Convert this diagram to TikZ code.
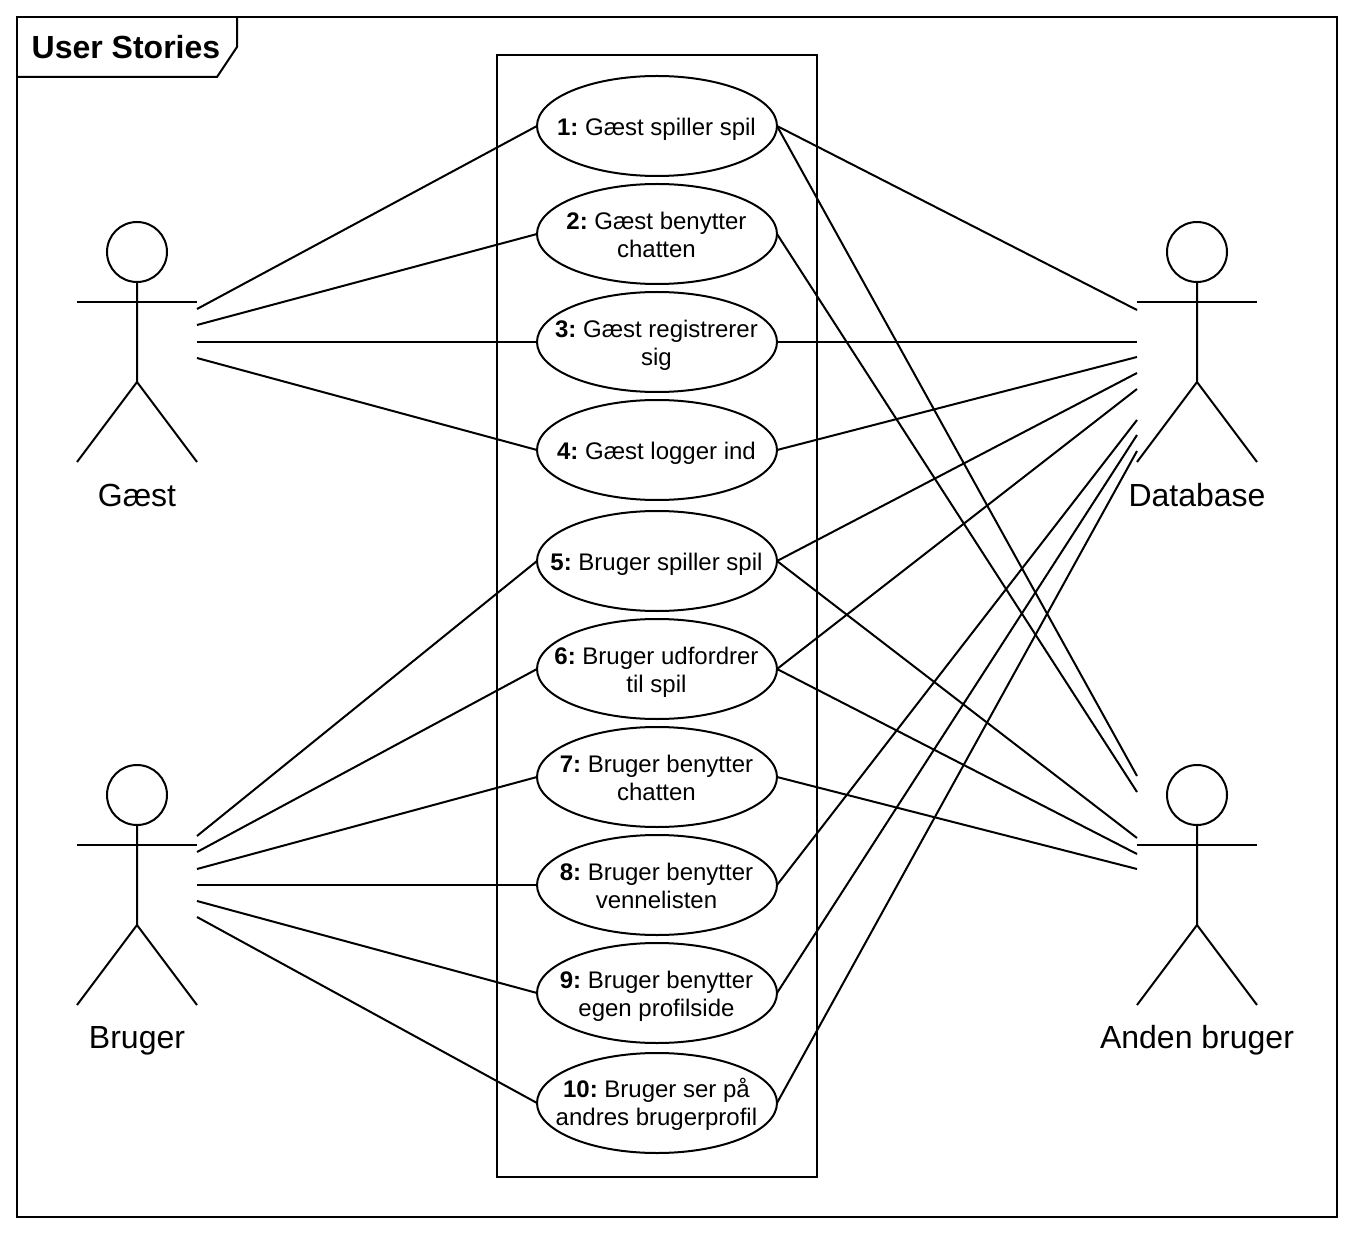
\documentclass[tikz,border=0pt]{standalone}
\usepackage{fontspec}
\setmainfont{Liberation Sans}
\usepackage{tikz}
\usetikzlibrary{positioning, shapes.geometric}
\frenchspacing

\tikzset{
    edge/.style={draw=black, line width=1.5pt},
    usecase/.style={ellipse, draw=black, line width=1.5pt, fill=white, inner sep=0pt, outer sep=0pt, minimum width=180pt, minimum height=75pt},
    casetext/.style={align=center, inner sep=0pt, xshift=-0.4pt, yshift=-2.6pt, font=\fontsize{18}{21}\selectfont, execute at begin node=\strut, execute at end node=\strut},
    casetwo/.style={casetext, yshift=-1pt},
    head/.style={circle, draw=black, line width=1.5pt, inner sep=0pt, outer sep=0pt, minimum size=45pt},
    actorname/.style={inner sep=0pt, text height=17.5pt, text depth=0pt, font=\fontsize{24}{28}\selectfont},
    titletext/.style={inner sep=0pt, font=\fontsize{24}{28}\selectfont\bfseries}
}

\begin{document}
\begin{tikzpicture}[x=0.75pt, y=-0.75pt]
    \useasboundingbox (0, 0) rectangle (1364, 1244);

    % frame
    \draw[edge] (17, 17) rectangle (1337, 1217);
    \draw[edge] (17, 77) -- (217, 77) -- (237, 47) -- (237, 17);
    \node[titletext] (title) at (126, 47) {User Stories};
    \draw[edge] (497, 55) rectangle (817, 1177);

    % use cases
    \node[usecase, label={[casetext]center:\textbf{1:} Gæst spiller spil}] (u1) at (657, 126) {};
    \node[usecase, label={[casetwo]center:\textbf{2:} Gæst benytter\\chatten}] (u2) at (657, 234) {};
    \node[usecase, label={[casetwo]center:\textbf{3:} Gæst registrerer\\sig}] (u3) at (657, 342) {};
    \node[usecase, label={[casetext]center:\textbf{4:} Gæst logger ind}] (u4) at (657, 450) {};
    \node[usecase, label={[casetext]center:\textbf{5:} Bruger spiller spil}] (u5) at (657, 561) {};
    \node[usecase, label={[casetwo]center:\textbf{6:} Bruger udfordrer\\til spil}] (u6) at (657, 669) {};
    \node[usecase, label={[casetwo]center:\textbf{7:} Bruger benytter\\chatten}] (u7) at (657, 777) {};
    \node[usecase, label={[casetwo]center:\textbf{8:} Bruger benytter\\vennelisten}] (u8) at (657, 885) {};
    \node[usecase, label={[casetwo]center:\textbf{9:} Bruger benytter\\egen profilside}] (u9) at (657, 993) {};
    \node[usecase, label={[casetext]center:\textbf{10:} Bruger ser på\\andres brugerprofil}] (u10) at (657, 1103) {};

    % actors
    \node[head] (gast) at (137, 252) {};
    \draw[edge] (gast.south) -- ++(0, 100) -- ++(-60, 80) ++(60, -80) -- ++(60, 80);
    \draw[edge] (77, 302) -- (197, 302);
    \node[actorname] (gastname) at (137, 495) {Gæst};

    \node[head] (bruger) at (137, 795) {};
    \draw[edge] (bruger.south) -- ++(0, 100) -- ++(-60, 80) ++(60, -80) -- ++(60, 80);
    \draw[edge] (77, 845) -- (197, 845);
    \node[actorname] (brugername) at (137, 1037) {Bruger};

    \node[head] (database) at (1197, 252) {};
    \draw[edge] (database.south) -- ++(0, 100) -- ++(-60, 80) ++(60, -80) -- ++(60, 80);
    \draw[edge] (1137, 302) -- (1257, 302);
    \node[actorname] (databasename) at (1197, 495) {Database};

    \node[head] (anden) at (1197, 795) {};
    \draw[edge] (anden.south) -- ++(0, 100) -- ++(-60, 80) ++(60, -80) -- ++(60, 80);
    \draw[edge] (1137, 845) -- (1257, 845);
    \node[actorname] (andenname) at (1197, 1037) {Anden bruger};

    % free ends beside the actors
    \coordinate (g1) at (197, 309);
    \coordinate (g2) at (197, 325);
    \coordinate (g3) at (197, 342);
    \coordinate (g4) at (197, 358);
    \coordinate (b5) at (197, 836);
    \coordinate (b6) at (197, 852);
    \coordinate (b7) at (197, 869);
    \coordinate (b8) at (197, 885);
    \coordinate (b9) at (197, 901);
    \coordinate (b10) at (197, 917);
    \coordinate (d1) at (1137, 310);
    \coordinate (d3) at (1137, 342);
    \coordinate (d4) at (1137, 357);
    \coordinate (d5) at (1137, 373);
    \coordinate (d6) at (1137, 389);
    \coordinate (d8) at (1137, 420);
    \coordinate (d9) at (1137, 435);
    \coordinate (d10) at (1137, 451);
    \coordinate (a1) at (1137, 776);
    \coordinate (a2) at (1137, 792);
    \coordinate (a5) at (1137, 838);
    \coordinate (a6) at (1137, 854);
    \coordinate (a7) at (1137, 869);

    \draw[edge] (g1) -- (u1.west);
    \draw[edge] (g2) -- (u2.west);
    \draw[edge] (g3) -- (u3.west);
    \draw[edge] (g4) -- (u4.west);
    \draw[edge] (b5) -- (u5.west);
    \draw[edge] (b6) -- (u6.west);
    \draw[edge] (b7) -- (u7.west);
    \draw[edge] (b8) -- (u8.west);
    \draw[edge] (b9) -- (u9.west);
    \draw[edge] (b10) -- (u10.west);

    \draw[edge] (u1.east) -- (d1);
    \draw[edge] (u3.east) -- (d3);
    \draw[edge] (u4.east) -- (d4);
    \draw[edge] (u5.east) -- (d5);
    \draw[edge] (u6.east) -- (d6);
    \draw[edge] (u8.east) -- (d8);
    \draw[edge] (u9.east) -- (d9);
    \draw[edge] (u10.east) -- (d10);

    \draw[edge] (u1.east) -- (a1);
    \draw[edge] (u2.east) -- (a2);
    \draw[edge] (u5.east) -- (a5);
    \draw[edge] (u6.east) -- (a6);
    \draw[edge] (u7.east) -- (a7);
\end{tikzpicture}
\end{document}
